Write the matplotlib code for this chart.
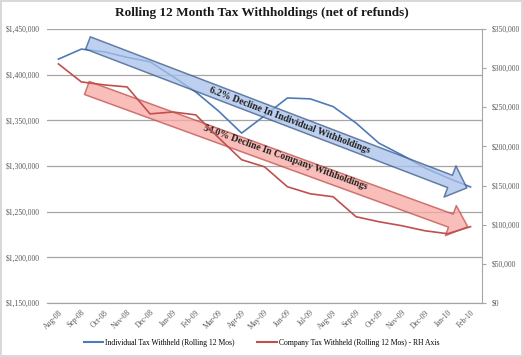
import numpy as np
import matplotlib
matplotlib.use("Agg")
import matplotlib.pyplot as plt
from matplotlib.patches import FancyArrowPatch
from matplotlib.ticker import FuncFormatter

# data
months = ["Aug-08", "Sep-08", "Oct-08", "Nov-08", "Dec-08", "Jan-09", "Feb-09", "Mar-09",
          "Apr-09", "May-09", "Jun-09", "Jul-09", "Aug-09", "Sep-09", "Oct-09", "Nov-09",
          "Dec-09", "Jan-10", "Feb-10"]
individual = [1417000, 1428000, 1425000, 1419000, 1414000, 1398000, 1381000, 1360000,
              1336000, 1355000, 1374500, 1373500, 1365000, 1347000, 1325000, 1312000,
              1298000, 1287000, 1277000]
company = [305400, 282400, 278600, 276000, 241600, 244000, 240300, 211000,
           183000, 174000, 148500, 139500, 135700, 110200, 103800, 98700,
           92300, 88500, 97500]

# annotation arrows (x index, left axis value)
blue_arrow = [(1.29, 1434700), (17.84, 1276000)]
red_arrow = [(1.24, 1385400), (17.88, 1233400)]

serif = ["Liberation Serif", "DejaVu Serif"]
plt.rcParams["font.family"] = serif

fig = plt.figure(figsize=(5.23, 3.57), dpi=100)
ax = fig.add_axes([47 / 523, 1 - 303 / 357, 435 / 523, 274 / 357])
ax2 = ax.twinx()

x = np.arange(len(months))
blue = "#4f7ab8"
red = "#c0504d"

ax.plot(x, individual, color=blue, lw=1.2, zorder=3)
ax2.plot(x, company, color=red, lw=1.2, zorder=3)

ax.set_xlim(-0.5, len(months) - 0.5)
ax.set_ylim(1150000, 1450000)
ax.set_yticks(np.arange(1150000, 1450001, 50000))
ax2.set_ylim(0, 350000)
ax2.set_yticks(np.arange(0, 350001, 50000))

ax.yaxis.set_major_formatter(FuncFormatter(lambda v, p: "${:,.0f}".format(v)))
ax2.yaxis.set_major_formatter(FuncFormatter(lambda v, p: "${:,.0f}".format(v)))

ax.grid(axis="y", color="#a6a6a6", lw=0.9)
ax.set_axisbelow(True)
for a in (ax, ax2):
    for s in ("top", "left", "right"):
        a.spines[s].set_visible(False)
    a.spines["bottom"].set_color("#a6a6a6")
ax2.spines["right"].set_visible(True)
ax2.spines["right"].set_color("#a6a6a6")

ax.tick_params(axis="y", length=0, labelsize=5.5, labelcolor="#595959", pad=5)
ax2.tick_params(axis="y", length=3, color="#a6a6a6", labelsize=5.5, labelcolor="#595959", pad=4)
ax.set_xticks(x)
ax.set_xticklabels(months, rotation=45, ha="right", rotation_mode="anchor")
ax.tick_params(axis="x", length=0, labelsize=5.5, labelcolor="#595959", pad=4)

# block arrows
arr1 = FancyArrowPatch(blue_arrow[0], blue_arrow[1], transform=ax.transData,
                       arrowstyle="simple,head_length=13,head_width=24,tail_width=9.5",
                       mutation_scale=1, shrinkA=0, shrinkB=0,
                       facecolor="#a9c1ea", edgecolor="#3b5a8a", lw=1.1, alpha=0.75, zorder=4)
arr2 = FancyArrowPatch(red_arrow[0], red_arrow[1], transform=ax.transData,
                       arrowstyle="simple,head_length=13,head_width=23,tail_width=10",
                       mutation_scale=1, shrinkA=0, shrinkB=0,
                       facecolor="#f9a9a3", edgecolor="#c0504d", lw=1.1, alpha=0.75, zorder=4)
ax.add_patch(arr1)
ax.add_patch(arr2)

ax.text(10.1, 1350400, "6.2% Decline In Individual Withholdings", rotation=-20.9,
        rotation_mode="anchor", ha="center", va="center", fontsize=7, fontweight="bold",
        color="#1f1f1f", zorder=5)
ax.text(9.9, 1308900, "54.0% Decline In Company Withholdings", rotation=-20.0,
        rotation_mode="anchor", ha="center", va="center", fontsize=7, fontweight="bold",
        color="#1f1f1f", zorder=5)

fig.text(0.5, 1 - 13 / 357, "Rolling 12 Month Tax Withholdings (net of refunds)",
         ha="center", va="center", fontsize=9.5, fontweight="bold", color="#1a1a1a")

# legend
h1, = ax.plot([], [], color=blue, lw=1.5)
h2, = ax.plot([], [], color=red, lw=1.5)
fig.legend([h1, h2], ["Individual Tax Withheld (Rolling 12 Mos)",
                      "Company Tax Withheld (Rolling 12 Mos) - RH Axis"],
           loc="center", bbox_to_anchor=(0.5, 1 - 343 / 357), ncol=2, frameon=False,
           fontsize=5.5, handlelength=2.5, columnspacing=3.0, handletextpad=0.3)

fig.patch.set_edgecolor("#d9d9d9")
fig.patch.set_linewidth(1.5)

fig.savefig("out.png", dpi=100)
